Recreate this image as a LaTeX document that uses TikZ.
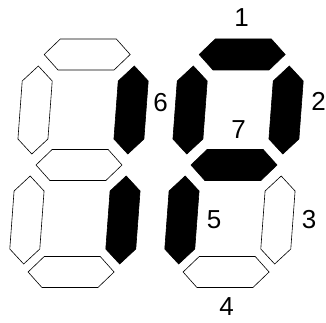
\documentclass[tikz,border=0pt]{standalone}
\usepackage{fontspec}
\setmainfont{Liberation Sans}
\usepackage{tikz}
\usetikzlibrary{positioning}
\tikzset{
	segoff/.style={draw=black, line width=0.6pt, fill=white, line join=miter},
	segon/.style ={draw=black, line width=0.6pt, fill=black, line join=miter},
	seglabel/.style={inner sep=0pt, font=\fontsize{26}{30}\selectfont},
}
% horizontal segment: style, y offset
\newcommand{\hseg}[2]{\draw[#1] (0,#2) ++(-43,0) -- ++(15,-15.5) -- ++(56,0) -- ++(15,15.5) -- ++(-15,15.5) -- ++(-56,0) -- cycle;}
% vertical segment: style, x offset, y offset
\newcommand{\vseg}[3]{\draw[#1] (#2,#3) ++(0,-44) -- ++(15,15) -- ++(0,58) -- ++(-15,15) -- ++(-15,-15) -- ++(0,-58) -- cycle;}
\begin{document}
\begin{tikzpicture}[x=1pt, y=-1pt]
	\useasboundingbox (0,0) rectangle (326,323);
	% left digit
	\begin{scope}[shift={(79,165)}, xslant=0.074]
		\hseg{segoff}{-110.5}
		\vseg{segon}{48}{-55}
		\vseg{segon}{48}{55}
		\hseg{segoff}{107}
		\vseg{segoff}{-48}{55}
		\vseg{segoff}{-48}{-55}
		\hseg{segoff}{0}
	\end{scope}
	% right digit
	\begin{scope}[shift={(234,165)}, xslant=0.074]
		\hseg{segon}{-110.5}
		\vseg{segon}{48}{-55}
		\vseg{segoff}{48}{55}
		\hseg{segoff}{107}
		\vseg{segon}{-48}{55}
		\vseg{segon}{-48}{-55}
		\hseg{segon}{0}
	\end{scope}
	% segment numbers
	\node[seglabel] (lab1) at (241.5,17.5) {1};
	\node[seglabel] (lab2) at (318.5,101) {2};
	\node[seglabel] (lab3) at (309,220) {3};
	\node[seglabel] (lab4) at (226.5,307) {4};
	\node[seglabel] (lab5) at (214,220) {5};
	\node[seglabel] (lab6) at (160.5,102.5) {6};
	\node[seglabel] (lab7) at (238.5,130) {7};
\end{tikzpicture}
\end{document}
